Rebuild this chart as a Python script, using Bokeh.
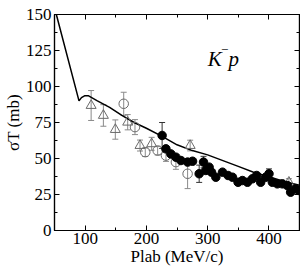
import numpy as np
from bokeh.plotting import figure
from bokeh.models import Range1d, FixedTicker, LinearAxis, Label, CustomLabelingPolicy
from bokeh.embed import file_html
from bokeh.resources import INLINE

# ---- data ----
curve_p = [53, 90, 94, 99, 105, 120, 140, 160, 180, 200, 225, 250, 275, 300, 325, 350, 375, 400, 425, 450]
curve_s = [150, 90, 92.3, 93.5, 93.6, 90, 85.5, 80, 75, 71, 65.5, 59.5, 55.5, 52.5, 48.5, 44.5, 40.5, 37.3, 34, 31.5]

tri_p = [109.8, 129.8, 149.3, 169.5, 189.6, 208.6, 271.5, 432.7]
tri_s = [86.8, 79.9, 70.1, 75.2, 59.0, 60.2, 59.0, 33.5]
tri_e = [10.4, 7.5, 6.7, 5.3, 3.8, 4.5, 3.7, 2.5]

circ_p = [163, 181.4, 198.2, 218.4, 232, 248.2, 267.3]
circ_s = [88, 71.8, 54.4, 55.5, 52, 47.5, 39.4]
circ_e = [8, 5.2, 3, 3, 4, 5, 10.3]

fill_p = [225.7, 231.9, 240, 248.2, 256.4, 267.3, 275.4, 286.2, 293.3, 297, 302.4, 306.4, 313.4, 324.3,
          333.4, 340.6, 349.7, 356.8, 365, 373.1, 380.1, 386.6, 394.8, 400.2, 405.7, 413.8, 422, 430.1,
          435.5, 443.6, 449]
fill_s = [66, 56.7, 53.2, 50.9, 48.6, 47.5, 48.1, 39.4, 47.5, 41.7, 44, 40.5, 37, 40.5,
          38.2, 37, 33.5, 34.7, 33.5, 35.9, 38.2, 33.5, 37, 39.4, 33.5, 32.4, 32.4, 31.2,
          26.6, 29, 27.8]
fill_e = [9, 0, 0, 0, 0, 0, 0, 6, 4, 0, 0, 0, 0, 0,
          0, 0, 0, 0, 0, 0, 0, 0, 0, 3.4, 0, 0, 0, 0,
          0, 0, 0]

x_major = [100, 200, 300, 400]
x_minor = [50, 150, 250, 350, 450]
y_major = [0, 25, 50, 75, 100, 125, 150]
y_minor = [12.5, 37.5, 62.5, 87.5, 112.5, 137.5]

x_title = "Plab (MeV/c)"
y_title = "\u03c3T (mb)"

FONT = "Liberation Serif"
GREY = "#6a6a6a"
EGREY = "#8a8a8a"

p = figure(width=300, height=272, output_backend="svg", toolbar_location=None,
           x_range=Range1d(50, 450), y_range=Range1d(0, 150),
           min_border_left=53, min_border_right=1, min_border_top=14, min_border_bottom=42)
p.xgrid.visible = False
p.ygrid.visible = False
p.outline_line_color = "black"
p.outline_line_width = 1.2
p.background_fill_color = "white"
p.border_fill_color = "white"

xt = FixedTicker(ticks=x_major, minor_ticks=x_minor)
yt = FixedTicker(ticks=y_major, minor_ticks=y_minor)

def style(ax, labels=True):
    ax.axis_line_color = "black"
    ax.axis_line_width = 1.2
    ax.major_tick_in = 5
    ax.major_tick_out = 0
    ax.minor_tick_in = 3
    ax.minor_tick_out = 0
    ax.major_tick_line_color = "black"
    ax.minor_tick_line_color = "black"
    ax.major_tick_line_width = 1
    ax.minor_tick_line_width = 1
    if labels:
        ax.major_label_text_font = FONT
        ax.major_label_text_font_size = "17px"
        ax.major_label_text_color = "black"
        ax.major_label_standoff = 3
        ax.axis_label_text_font = FONT
        ax.axis_label_text_font_size = "17px"
        ax.axis_label_text_font_style = "normal"
        ax.axis_label_text_color = "black"
    else:
        ax.axis_label = None
        ax.major_label_policy = CustomLabelingPolicy(code="return []")
        ax.major_label_text_font_size = "0px"
        ax.major_label_standoff = 0

p.xaxis.ticker = xt
p.yaxis.ticker = yt
style(p.xaxis[0])
style(p.yaxis[0])
p.xaxis[0].major_label_standoff = 2
p.xaxis[0].axis_label = x_title
p.xaxis[0].axis_label_standoff = 0
p.yaxis[0].axis_label = y_title
p.yaxis[0].axis_label_standoff = 0
p.yaxis[0].axis_label_text_align = "left"

top = LinearAxis(ticker=xt)
right = LinearAxis(ticker=yt)
style(top, False)
style(right, False)
p.add_layout(top, "above")
p.add_layout(right, "right")

# ---- error bars ----
def errbars(xs, ys, es, color):
    xs = np.array(xs); ys = np.array(ys); es = np.array(es)
    m = es > 0
    xs, ys, es = xs[m], ys[m], es[m]
    p.segment(x0=xs, y0=ys - es, x1=xs, y1=ys + es, line_color=color, line_width=1)
    p.scatter(x=np.concatenate([xs, xs]), y=np.concatenate([ys - es, ys + es]), marker="dash",
              size=6, line_color=color, line_width=1)

errbars(tri_p, tri_s, tri_e, EGREY)
errbars(circ_p, circ_s, circ_e, EGREY)
errbars(fill_p, fill_s, fill_e, "#333333")

# ---- curve ----
p.line(curve_p, curve_s, line_color="black", line_width=1.5)

# ---- markers ----
p.scatter(tri_p, tri_s, marker="triangle", size=10, fill_color=None, line_color=GREY, line_width=1)
p.scatter(circ_p, circ_s, marker="circle", size=9.5, fill_color=None, line_color=GREY, line_width=1)
p.scatter(fill_p, fill_s, marker="circle", size=8.5, fill_color="black", line_color="black")

# ---- K^- p annotation ----
def lab(x, y, t, size, style="normal"):
    p.add_layout(Label(x=x, y=y, text=t, text_font=FONT, text_font_size=size, text_font_style=style,
                       text_align="left", text_baseline="alphabetic", text_color="black"))

lab(300, 119.4, "K", "21px", "italic")
lab(322, 125.5, "\u2212", "13px")
lab(334, 119.4, "p", "21px", "italic")

open("out.html", "w").write(file_html(p, INLINE))
